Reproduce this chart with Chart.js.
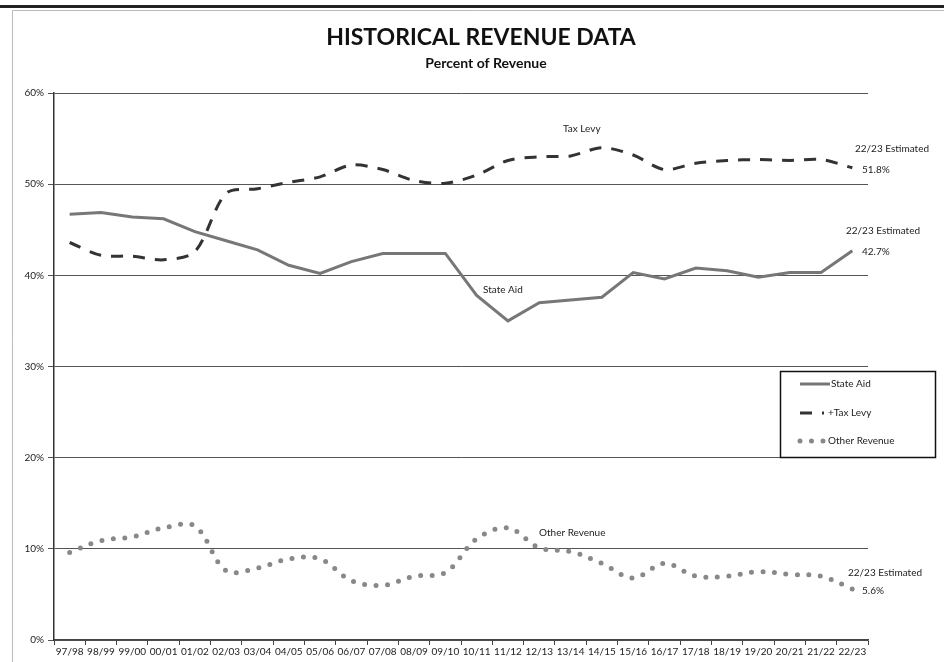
<!DOCTYPE html>
<html>
<head>
<meta charset="utf-8">
<script src="https://cdn.jsdelivr.net/npm/chart.js@4/dist/chart.umd.min.js"></script>
<style>
  html, body { margin: 0; padding: 0; background: #fff; }
  #wrap { width: 944px; height: 662px; position: relative; }
</style>
</head>
<body>
<div id="wrap"><canvas id="myChart" width="944" height="662"></canvas></div>
<script>
const years = ["97/98", "98/99", "99/00", "00/01", "01/02", "02/03", "03/04", "04/05", "05/06",
  "06/07", "07/08", "08/09", "09/10", "10/11", "11/12", "12/13", "13/14", "14/15", "15/16",
  "16/17", "17/18", "18/19", "19/20", "20/21", "21/22", "22/23"];
const stateAid = [46.7, 46.9, 46.4, 46.2, 44.8, 43.8, 42.8, 41.1, 40.2, 41.5, 42.4, 42.4, 42.4,
  37.8, 35.0, 37.0, 37.3, 37.6, 40.3, 39.6, 40.8, 40.5, 39.8, 40.3, 40.3, 42.7];
const taxLevy = [43.6, 42.2, 42.1, 41.7, 42.6, 49.0, 49.5, 50.2, 50.8, 52.1, 51.6, 50.4, 50.1,
  51.0, 52.6, 53.0, 53.1, 54.0, 53.2, 51.6, 52.3, 52.6, 52.7, 52.6, 52.7, 51.8];
const otherRevenue = [9.6, 10.9, 11.3, 12.3, 12.5, 7.6, 7.9, 8.9, 8.9, 6.5, 6.0, 7.0, 7.4,
  11.1, 12.3, 10.1, 9.7, 8.4, 6.8, 8.4, 7.0, 7.0, 7.5, 7.2, 7.0, 5.6];
const yTicks = [0, 10, 20, 30, 40, 50, 60];

const FONT = "Lato, 'Open Sans', sans-serif";

// Frame, titles, text notes and the boxed legend
const decorations = {
  id: "decorations",
  beforeDraw(chart) {
    const ctx = chart.ctx;
    ctx.save();
    ctx.fillStyle = "#fff";
    ctx.fillRect(0, 0, chart.width, chart.height);
    ctx.fillStyle = "#222";
    ctx.fillRect(0, 5, chart.width, 3);
    ctx.strokeStyle = "#bbb";
    ctx.lineWidth = 1;
    ctx.beginPath();
    ctx.moveTo(12.5, 662);
    ctx.lineTo(12.5, 10.5);
    ctx.lineTo(944, 10.5);
    ctx.stroke();
    ctx.restore();
  },
  afterDraw(chart) {
    const ctx = chart.ctx;
    ctx.save();
    ctx.fillStyle = "#111";
    ctx.textAlign = "center";
    ctx.textBaseline = "middle";
    ctx.font = "bold 23px " + FONT;
    ctx.fillText("HISTORICAL REVENUE DATA", 481, 38);
    ctx.font = "bold 14px " + FONT;
    ctx.fillText("Percent of Revenue", 486, 63);

    ctx.font = "10px " + FONT;
    ctx.fillStyle = "#222";
    ctx.textAlign = "left";
    const notes = [
      ["Tax Levy", 563, 129],
      ["22/23 Estimated", 855, 149],
      ["51.8%", 862, 170],
      ["22/23 Estimated", 846, 231],
      ["42.7%", 862, 252],
      ["State Aid", 483, 290],
      ["Other Revenue", 539, 533],
      ["22/23 Estimated", 848, 573],
      ["5.6%", 862, 591]
    ];
    notes.forEach(([t, x, y]) => ctx.fillText(t, x, y));

    // legend box
    ctx.fillStyle = "#fff";
    ctx.fillRect(780, 371, 155, 86);
    ctx.strokeStyle = "#111";
    ctx.lineWidth = 1.5;
    ctx.strokeRect(780.5, 371.5, 155, 86);
    const ds = chart.data.datasets;
    const rows = [384, 413, 441];
    ds.forEach((d, i) => {
      ctx.strokeStyle = d.borderColor;
      ctx.lineWidth = d.borderWidth;
      ctx.lineCap = d.borderCapStyle || "butt";
      ctx.setLineDash(d.borderDash || []);
      ctx.beginPath();
      ctx.moveTo(800, rows[i]);
      ctx.lineTo(i === 0 ? 830 : 824, rows[i]);
      ctx.stroke();
      ctx.setLineDash([]);
      ctx.fillStyle = "#222";
      ctx.fillText(i === 1 ? "+Tax Levy" : d.label, i === 0 ? 831 : 828, rows[i]);
    });
    ctx.restore();
  }
};

const ctx = document.getElementById("myChart").getContext("2d");
const chart = new Chart(ctx, {
  type: "line",
  data: {
    labels: years,
    datasets: [
      {
        label: "State Aid",
        data: stateAid,
        borderColor: "#777",
        borderWidth: 3,
        tension: 0,
        pointRadius: 0
      },
      {
        label: "Tax Levy",
        data: taxLevy,
        borderColor: "#333",
        borderWidth: 3,
        borderDash: [12, 10],
        tension: 0.3,
        pointRadius: 0
      },
      {
        label: "Other Revenue",
        data: otherRevenue,
        borderColor: "#888",
        borderWidth: 5,
        borderDash: [0, 11.5],
        borderCapStyle: "round",
        tension: 0.35,
        pointRadius: 0
      }
    ]
  },
  options: {
    responsive: false,
    animation: false,
    layout: { padding: { top: 93, right: 76, bottom: 0, left: 0 } },
    plugins: {
      legend: { display: false },
      title: { display: false },
      tooltip: { enabled: false }
    },
    scales: {
      x: {
        offset: true,
        grid: { offset: true, drawOnChartArea: false, color: "#444", tickLength: 5 },
        border: { color: "#444", width: 1.5 },
        ticks: {
          color: "#222",
          font: { family: FONT, size: 10 },
          maxRotation: 0,
          autoSkip: false,
          padding: 1
        },
        afterFit(scale) { scale.height = 22; }
      },
      y: {
        min: 0,
        max: 60,
        afterBuildTicks(scale) { scale.ticks = yTicks.map(v => ({ value: v })); },
        grid: { color: "#555", lineWidth: 1, tickLength: 6 },
        border: { color: "#333", width: 1.5 },
        ticks: {
          color: "#222",
          font: { family: FONT, size: 10 },
          padding: 4,
          callback: v => v + "%"
        },
        afterFit(scale) { scale.width = 54; }
      }
    }
  },
  plugins: [decorations]
});
</script>
</body>
</html>
